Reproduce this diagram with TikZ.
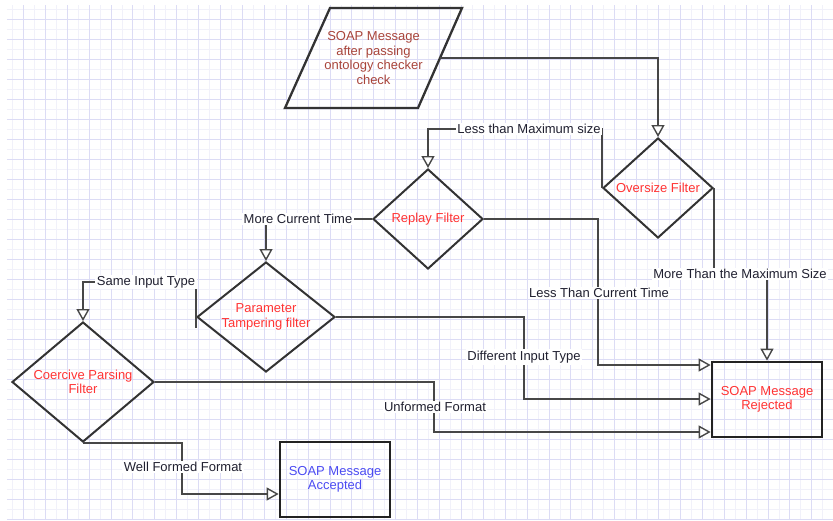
\documentclass[tikz,border=0pt]{standalone}
\usepackage{fontspec}
\setmainfont{Liberation Sans}
\usetikzlibrary{shapes.geometric,arrows.meta}

\definecolor{gridmajor}{HTML}{DCDCF5}
\definecolor{gridminor}{HTML}{F1F1FA}
\definecolor{edgegray}{HTML}{474747}
\definecolor{shapeline}{HTML}{333333}
\definecolor{boxline}{HTML}{222222}
\definecolor{filterred}{HTML}{FF3333}
\definecolor{inputbrown}{HTML}{A8443A}
\definecolor{acceptblue}{HTML}{4B4BF2}
\definecolor{labelink}{HTML}{202030}

\begin{document}
\begin{tikzpicture}[x=1pt,y=-1pt,
  every node/.style={font=\fontsize{13}{14.5}\selectfont},
  filter/.style={diamond, draw=shapeline, line width=2pt, inner sep=0pt},
  filtertext/.style={text=filterred, align=center},
  endbox/.style={rectangle, draw=boxline, line width=2.7pt, minimum width=110pt,
    minimum height=75pt, inner sep=0pt, align=center},
  edge/.style={draw=edgegray, line width=1.4pt},
  openarrow/.style={-{Triangle[length=12pt,width=13pt,fill=white]}},
  lbl/.style={fill=white, inner sep=1.5pt, text=labelink}
]
\useasboundingbox (0,0) rectangle (833,520);

% background grid
\begin{scope}
  \clip (7,5) rectangle (833,520);
  \foreach \i in {0,...,38} {
    \draw[gridminor, line width=0.8pt] ({12.45+21.9*\i},5) -- ({12.45+21.9*\i},520);
  }
  \foreach \j in {0,...,26} {
    \draw[gridminor, line width=0.8pt] (7,{9.3+20*\j}) -- (833,{9.3+20*\j});
  }
  \foreach \i in {0,...,38} {
    \draw[gridmajor, line width=1pt] ({1.5+21.9*\i},5) -- ({1.5+21.9*\i},520);
  }
  \foreach \j in {0,...,26} {
    \draw[gridmajor, line width=1pt] (7,{-0.7+20*\j}) -- (833,{-0.7+20*\j});
  }
\end{scope}

% input message (parallelogram)
\draw[shapeline, line width=2.3pt, line join=miter] (330,8) -- (462,8) -- (418,108) -- (285,108) -- cycle;
\node[text=inputbrown, align=center] (para) at (373.5,58) {SOAP Message\\after passing\\ontology checker\\check};
\coordinate (paraout) at (440,58);

% filters
\node[filter, minimum width=110pt, minimum height=100pt,
  label={[filtertext]center:Oversize Filter}] (over) at (658,188) {};
\node[filter, minimum width=110pt, minimum height=100pt,
  label={[filtertext]center:Replay Filter}] (replay) at (428,219) {};
\node[filter, minimum width=138pt, minimum height=110pt,
  label={[filtertext]center:Parameter\\Tampering filter}] (param) at (266,317) {};
\node[filter, minimum width=142pt, minimum height=120pt,
  label={[filtertext]center:Coercive Parsing\\Filter}] (coer) at (83,382) {};

% outcomes
\node[endbox, text=filterred] (rej) at (767,399.5) {SOAP Message\\Rejected};
\node[endbox, text=acceptblue] (acc) at (335,479.5) {SOAP Message\\Accepted};

% connectors
\draw[edge, openarrow] (paraout) -| (over.north);

\draw[edge, openarrow] (over.west) -- ++(0,-59) -| (replay.north);
\node[lbl] (lessmax) at (529,129) {Less than Maximum size};

\draw[edge, openarrow] (over.east) |- (740,274) -| (rej.north);
\node[lbl] (moremax) at (740,274) {More Than the Maximum Size};

\draw[edge, openarrow] (replay.east) -| (598,365) -- (rej.west |- 0,365);
\node[lbl] (lesstime) at (599,293) {Less Than Current Time};

\draw[edge, openarrow] (replay.west) -| (param.north);
\node[lbl] (moretime) at (298,219) {More Current Time};

\draw[edge, openarrow] (param.east) -| (524,399) -- (rej.west |- 0,399);
\node[lbl] (difftype) at (524,357) {Different Input Type};

\draw[edge, openarrow] ([yshift=-11pt]param.west) |- (146,282) -| (coer.north);
\node[lbl] (sametype) at (146,282) {Same Input Type};

\draw[edge, openarrow] (coer.east) -| (434,432) -- (rej.west |- 0,432);
\node[lbl] (unformed) at (435,407) {Unformed Format};

\draw[edge, openarrow] (coer.south) -| (182,494) -- (acc.west |- 0,494);
\node[lbl] (wellformed) at (183,467) {Well Formed Format};
\end{tikzpicture}
\end{document}
